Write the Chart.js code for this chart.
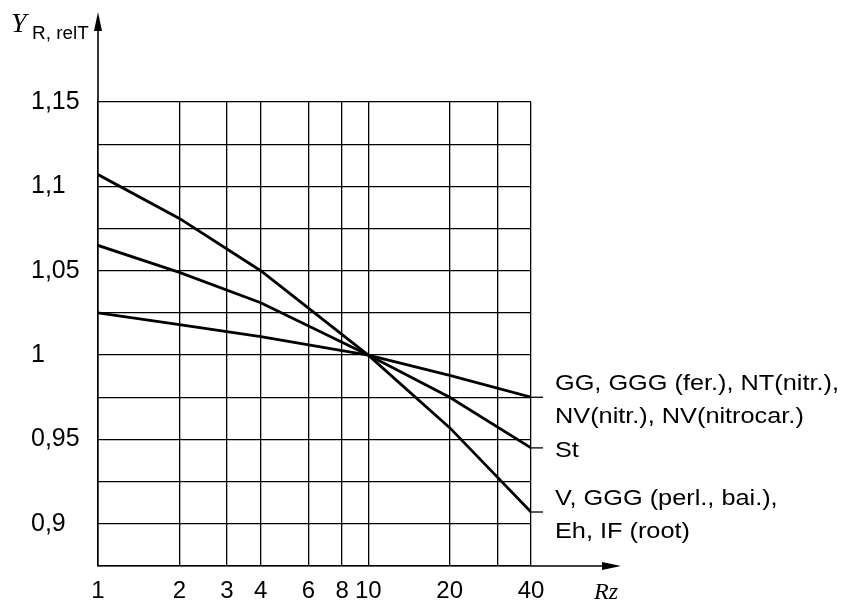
<!DOCTYPE html>
<html>
<head>
<meta charset="utf-8">
<script src="https://cdn.jsdelivr.net/npm/chart.js@4.4.0/dist/chart.umd.min.js"></script>
<style>
  html, body { margin: 0; padding: 0; background: #fff; }
  #wrap { width: 854px; height: 601px; }
</style>
</head>
<body>
<div id="wrap"><canvas id="relChart"></canvas></div>
<script>
const rzValues = [1, 2, 4, 10, 20, 40];

// relative surface factor Y_R,relT for the three material groups
const yGroupV = [1.107, 1.081, 1.050, 1.000, 0.957, 0.907];
const yGroupSt = [1.065, 1.049, 1.031, 1.000, 0.975, 0.945];
const yGroupGG = [1.025, 1.018, 1.011, 1.000, 0.988, 0.975];

const groupLabels = [
    ['GG, GGG (fer.), NT(nitr.),', 'NV(nitr.), NV(nitrocar.)'],
    ['St'],
    ['V, GGG (perl., bai.),', 'Eh, IF (root)']
];

// axis ticks
const xTickValues = [1, 2, 3, 4, 6, 8, 10, 20, 30, 40];
const xTickLabels = ['1', '2', '3', '4', '6', '8', '10', '20', '', '40'];
const yTickValues = [0.9, 0.95, 1, 1.05, 1.1, 1.15];
const yTickLabels = ['0,9', '0,95', '1', '1,05', '1,1', '1,15'];

function toPoints(ys) {
    return rzValues.map((x, i) => ({x: x, y: ys[i]}));
}

const sans = '"Liberation Sans", Arial, sans-serif';
const serif = '"Liberation Serif", "Times New Roman", serif';

// text in the original is a bit wider than Arial, stretch it slightly
function wideText(ctx, txt, x, y, sx) {
    ctx.save();
    ctx.translate(x, y);
    ctx.scale(sx, 1);
    ctx.fillText(txt, 0, 0);
    ctx.restore();
}

const extras = {
    id: 'extras',
    afterDraw(chart) {
        const ctx = chart.ctx;
        const area = chart.chartArea;
        const ys = chart.scales.y;
        ctx.save();
        ctx.strokeStyle = '#000';
        ctx.fillStyle = '#000';
        ctx.lineWidth = 1.6;

        // y axis arrow
        ctx.beginPath();
        ctx.moveTo(area.left, area.top);
        ctx.lineTo(area.left, 26);
        ctx.stroke();
        ctx.beginPath();
        ctx.moveTo(area.left, 12);
        ctx.lineTo(area.left - 4, 31);
        ctx.lineTo(area.left + 4, 31);
        ctx.closePath();
        ctx.fill();

        // x axis arrow
        ctx.beginPath();
        ctx.moveTo(area.right, area.bottom);
        ctx.lineTo(606, area.bottom);
        ctx.stroke();
        ctx.beginPath();
        ctx.moveTo(621, area.bottom);
        ctx.lineTo(602, area.bottom - 4);
        ctx.lineTo(602, area.bottom + 4);
        ctx.closePath();
        ctx.fill();

        // leader ticks and group labels at the right end
        const ends = [yGroupGG, yGroupSt, yGroupV].map(a => a[a.length - 1]);
        ctx.font = '22px ' + sans;
        ctx.textAlign = 'left';
        ends.forEach((v, i) => {
            const py = ys.getPixelForValue(v);
            ctx.lineWidth = 1.3;
            ctx.beginPath();
            ctx.moveTo(area.right, py);
            ctx.lineTo(area.right + 12, py);
            ctx.stroke();
            const lines = groupLabels[i];
            ctx.textBaseline = 'alphabetic';
            if (lines.length === 1) {
                wideText(ctx, lines[0], area.right + 24, py + 9, 1.15);
            } else {
                wideText(ctx, lines[0], area.right + 24, py - 7, 1.15);
                wideText(ctx, lines[1], area.right + 24, py + 26, 1.15);
            }
        });

        // axis titles
        ctx.textBaseline = 'alphabetic';
        ctx.font = 'italic 28px ' + serif;
        ctx.fillText('Y', 11, 32);
        ctx.font = '18px ' + sans;
        wideText(ctx, 'R, relT', 32, 39, 1.05);
        ctx.font = 'italic 23px ' + serif;
        wideText(ctx, 'Rz', 594, 599, 1.05);
        ctx.restore();
    }
};

const lineStyle = {
    borderColor: '#000',
    borderWidth: 2.8,
    pointRadius: 0,
    tension: 0,
    fill: false
};

new Chart(document.getElementById('relChart'), {
    type: 'line',
    data: {
        datasets: [
            Object.assign({label: 'V', data: toPoints(yGroupV)}, lineStyle),
            Object.assign({label: 'St', data: toPoints(yGroupSt)}, lineStyle),
            Object.assign({label: 'GG', data: toPoints(yGroupGG)}, lineStyle)
        ]
    },
    options: {
        responsive: true,
        maintainAspectRatio: false,
        animation: false,
        layout: {padding: {left: 31, right: 323, top: 102, bottom: 0}},
        plugins: {
            legend: {display: false},
            tooltip: {enabled: false}
        },
        scales: {
            x: {
                type: 'logarithmic',
                min: 1,
                max: 40,
                afterBuildTicks: (scale) => {
                    scale.ticks = xTickValues.map(v => ({value: v}));
                },
                afterFit: (scale) => { scale.height = 35; },
                ticks: {
                    autoSkip: false,
                    maxRotation: 0,
                    padding: 11,
                    color: '#000',
                    font: {family: sans, size: 24},
                    callback: (v) => {
                        const i = xTickValues.indexOf(v);
                        return i >= 0 ? xTickLabels[i] : '';
                    }
                },
                grid: {color: '#000', lineWidth: 1.3, drawTicks: false},
                border: {color: '#000', width: 1.6}
            },
            y: {
                type: 'linear',
                min: 0.875,
                max: 1.15,
                afterFit: (scale) => { scale.width = 67; },
                ticks: {
                    stepSize: 0.025,
                    crossAlign: 'far',
                    color: '#000',
                    font: {family: sans, size: 25},
                    callback: (v) => {
                        const r = Math.round(v * 1000) / 1000;
                        const i = yTickValues.indexOf(r);
                        return i >= 0 ? yTickLabels[i] : '';
                    }
                },
                grid: {color: '#000', lineWidth: 1.3, drawTicks: false},
                border: {color: '#000', width: 1.6}
            }
        }
    },
    plugins: [extras]
});
</script>
</body>
</html>
